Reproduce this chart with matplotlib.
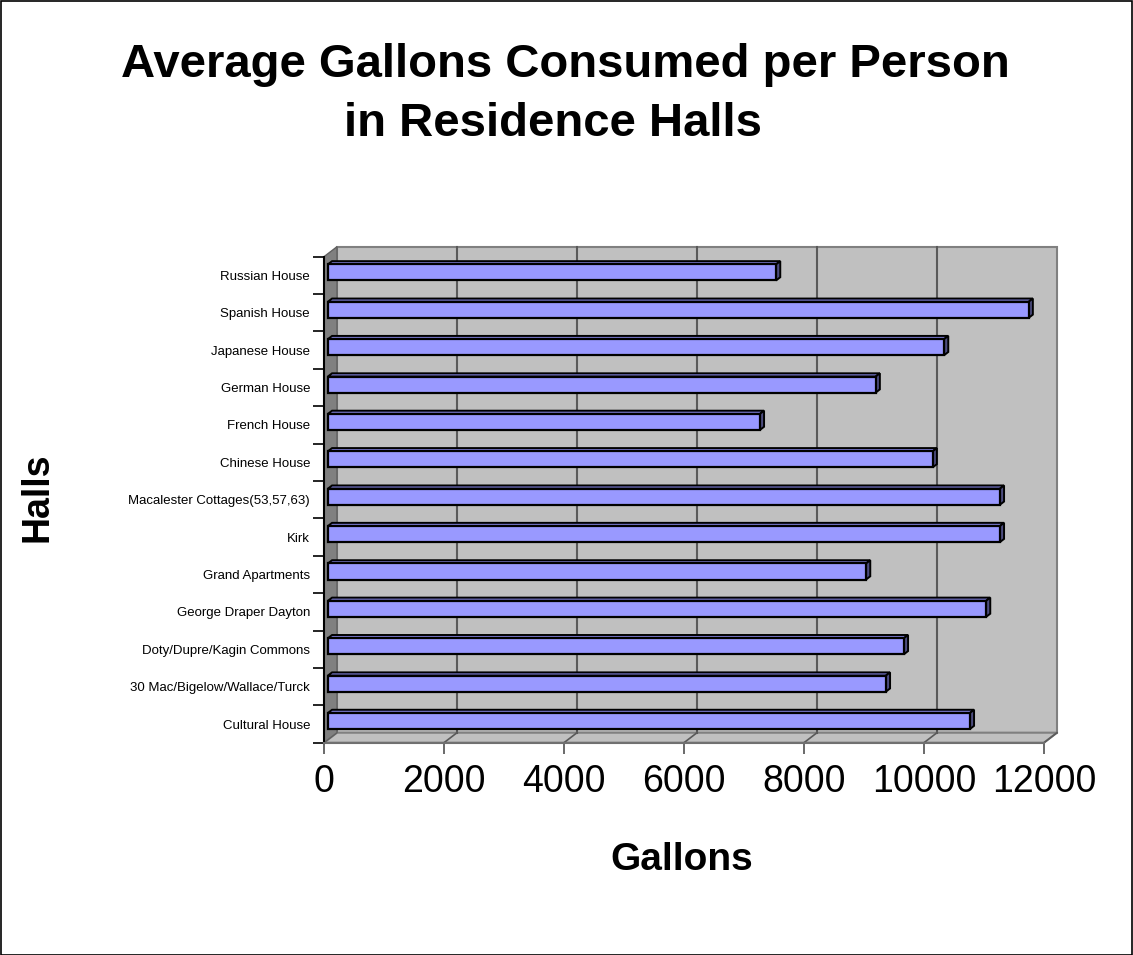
import matplotlib
matplotlib.use("Agg")
import matplotlib.pyplot as plt
from matplotlib.patches import Polygon, Rectangle

plt.rcParams['font.family'] = ['Liberation Sans', 'DejaVu Sans']

# ---- data (bottom to top) ----
halls = ["Cultural House", "30 Mac/Bigelow/Wallace/Turck", "Doty/Dupre/Kagin Commons",
         "George Draper Dayton", "Grand Apartments", "Kirk",
         "Macalester Cottages(53,57,63)", "Chinese House", "French House",
         "German House", "Japanese House", "Spanish House", "Russian House"]
gallons = [10700, 9300, 9600, 10970, 8970, 11200, 11200, 10080, 7200, 9130, 10270, 11680, 7470]
xticks = [0, 2000, 4000, 6000, 8000, 10000, 12000]
title_lines = ["Average Gallons Consumed per Person", "in Residence Halls"]
xlabel = "Gallons"
ylabel = "Halls"

W, H = 1133, 955
fig = plt.figure(figsize=(W / 100, H / 100), dpi=100)
fig.patch.set_facecolor("white")

# axes = front plane of the 3D box
x0, x1 = 324, 1044
ytop, ybot = 256.7, 742.7
ax = fig.add_axes([x0 / W, 1 - ybot / H, (x1 - x0) / W, (ybot - ytop) / H])
n = len(halls)
XMAX = 12000
ax.set_xlim(0, XMAX)
ax.set_ylim(-0.5, n - 0.5)
ax.set_facecolor("none")
for s in ax.spines.values():
    s.set_visible(False)

px_x = (x1 - x0) / XMAX
px_y = (ybot - ytop) / n
DX = 13 / px_x      # depth offset in data units
DY = 10 / px_y

ylo, yhi = -0.5, n - 0.5
wall_c = "#c0c0c0"
side_c = "#808080"
edge_c = "#808080"
grid_c = "#5a5a5a"

# back wall
ax.add_patch(Polygon([(DX, ylo + DY), (XMAX + DX, ylo + DY), (XMAX + DX, yhi + DY), (DX, yhi + DY)],
                     closed=True, facecolor=wall_c, edgecolor=edge_c, lw=1.5, clip_on=False, zorder=1))
# floor
ax.add_patch(Polygon([(0, ylo), (XMAX, ylo), (XMAX + DX, ylo + DY), (DX, ylo + DY)],
                     closed=True, facecolor="#c0c0c0", edgecolor=edge_c, lw=1.5, clip_on=False, zorder=1.5))
# left side wall
ax.add_patch(Polygon([(0, ylo), (DX, ylo + DY), (DX, yhi + DY), (0, yhi)],
                     closed=True, facecolor=side_c, edgecolor="#606060", lw=1, clip_on=False, zorder=1.5))

# gridlines on back wall and floor
for t in xticks[1:-1]:
    ax.plot([t + DX, t + DX], [ylo + DY, yhi + DY], color=grid_c, lw=1.5, clip_on=False, zorder=2)
for t in xticks[1:]:
    ax.plot([t, t + DX], [ylo, ylo + DY], color=grid_c, lw=1.2, clip_on=False, zorder=2)

# bars with 3D effect
f0 = 0.3        # depth fraction of bar front face
bd = 0.32       # bar depth fraction
bh = 0.43       # bar height (categories)
fx, fy = f0 * DX, f0 * DY
bdx, bdy = bd * DX, bd * DY
ypos = [i + fy for i in range(n)]
ax.barh(ypos, gallons, height=bh, left=fx, color="#9999ff", edgecolor="black", lw=1.6, zorder=4)
for yc, v in zip(ypos, gallons):
    yb, yt = yc - bh / 2, yc + bh / 2
    xr = fx + v
    ax.add_patch(Polygon([(fx, yt), (fx + bdx, yt + bdy), (xr + bdx, yt + bdy), (xr, yt)],
                         closed=True, facecolor="#7a7ad0", edgecolor="black", lw=1.4, zorder=3.5, clip_on=False))
    ax.add_patch(Polygon([(xr, yb), (xr + bdx, yb + bdy), (xr + bdx, yt + bdy), (xr, yt)],
                         closed=True, facecolor="#4d4d80", edgecolor="black", lw=1.4, zorder=3.5, clip_on=False))

# front axes lines
ax.plot([0, 0], [ylo, yhi], color="black", lw=1.5, clip_on=False, zorder=5)
ax.plot([0, XMAX], [ylo, ylo], color="#707070", lw=1.5, clip_on=False, zorder=5)

# x ticks
ax.set_xticks(xticks)
ax.set_xticklabels([str(t) for t in xticks], fontsize=27)
ax.tick_params(axis="x", direction="out", length=8, width=1.2, color="#505050", pad=7)

# y ticks: labels at centers, marks at boundaries
ax.set_yticks(range(n))
ax.set_yticklabels(halls, fontsize=9.5)
ax.tick_params(axis="y", which="major", length=0, pad=10)
ax.set_yticks([i - 0.5 for i in range(n + 1)], minor=True)
ax.tick_params(axis="y", which="minor", direction="out", length=8, width=1.2, color="black")

# titles and axis labels
fig.text(565 / W, 1 - 77 / H, title_lines[0], ha="center", va="baseline",
         fontsize=34, fontweight="bold")
fig.text(553 / W, 1 - 136 / H, title_lines[1], ha="center", va="baseline",
         fontsize=34, fontweight="bold")
fig.text(682 / W, 1 - 860 / H, xlabel, ha="center", va="center", fontsize=28, fontweight="bold")
fig.text(38 / W, 1 - 497 / H, ylabel, ha="center", va="center", rotation=90,
         fontsize=27, fontweight="bold")

# outer frame
fig.patches.append(Rectangle((0.5 / W, 0.5 / H), (W - 2) / W, (H - 2) / H, transform=fig.transFigure,
                             fill=False, edgecolor="black", lw=1.2))

fig.savefig("out.png", dpi=100, facecolor="white")
